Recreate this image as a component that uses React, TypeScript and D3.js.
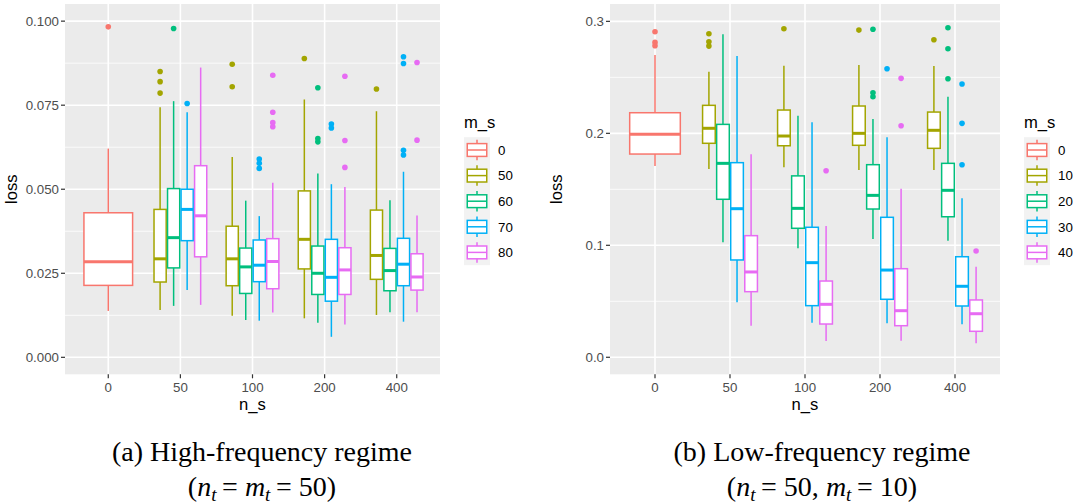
import React from "react";
import * as d3 from "d3";

type Box = { ns: string; lo: number; q1: number; med: number; q3: number; hi: number; out: number[] };

const nsLevels = ["0", "50", "100", "200", "400"];
const hueColors = ["#F8766D", "#A3A500", "#00BF7D", "#00B0F6", "#E76BF3"];

// (a) high-frequency regime
const hfMsLevels = ["0", "50", "60", "70", "80"];
const hfTicks = [0, 0.025, 0.05, 0.075, 0.1];
const hf0: Box[] = [{ ns: "0", lo: 0.0138, q1: 0.0214, med: 0.0284, q3: 0.043, hi: 0.0621, out: [0.0983] }];
const hf50: Box[] = [
  { ns: "50", lo: 0.0141, q1: 0.0224, med: 0.0293, q3: 0.044, hi: 0.0744, out: [0.085, 0.082, 0.0786] },
  { ns: "100", lo: 0.0124, q1: 0.0213, med: 0.0293, q3: 0.039, hi: 0.0596, out: [0.0872, 0.0805] },
  { ns: "200", lo: 0.0116, q1: 0.0263, med: 0.0351, q3: 0.0495, hi: 0.0767, out: [0.0889] },
  { ns: "400", lo: 0.0126, q1: 0.0232, med: 0.0303, q3: 0.0438, hi: 0.0732, out: [0.0798] },
];
const hf60: Box[] = [
  { ns: "50", lo: 0.0153, q1: 0.0266, med: 0.0356, q3: 0.0502, hi: 0.0762, out: [0.0978] },
  { ns: "100", lo: 0.0111, q1: 0.019, med: 0.0269, q3: 0.0325, hi: 0.0466, out: [] },
  { ns: "200", lo: 0.0103, q1: 0.0187, med: 0.025, q3: 0.0331, hi: 0.0547, out: [0.0802, 0.0651, 0.0641] },
  { ns: "400", lo: 0.0134, q1: 0.0198, med: 0.0258, q3: 0.0324, hi: 0.0467, out: [] },
];
const hf70: Box[] = [
  { ns: "50", lo: 0.02, q1: 0.0347, med: 0.044, q3: 0.05, hi: 0.0729, out: [0.0755] },
  { ns: "100", lo: 0.0109, q1: 0.0225, med: 0.0274, q3: 0.0349, hi: 0.042, out: [0.059, 0.0577, 0.0562] },
  { ns: "200", lo: 0.0061, q1: 0.0167, med: 0.0238, q3: 0.0351, hi: 0.0515, out: [0.0694, 0.0682] },
  { ns: "400", lo: 0.0106, q1: 0.0213, med: 0.0277, q3: 0.0354, hi: 0.0552, out: [0.0894, 0.0874, 0.0616, 0.0602] },
];
const hf80: Box[] = [
  { ns: "50", lo: 0.0156, q1: 0.0299, med: 0.0421, q3: 0.057, hi: 0.0862, out: [] },
  { ns: "100", lo: 0.0133, q1: 0.0204, med: 0.0285, q3: 0.0353, hi: 0.0519, out: [0.0839, 0.0729, 0.0698, 0.0686] },
  { ns: "200", lo: 0.0098, q1: 0.0187, med: 0.026, q3: 0.0326, hi: 0.0507, out: [0.0836, 0.0645, 0.0565] },
  { ns: "400", lo: 0.0134, q1: 0.02, med: 0.0239, q3: 0.0308, hi: 0.0422, out: [0.0877, 0.0646] },
];

// (b) low-frequency regime
const lfMsLevels = ["0", "10", "20", "30", "40"];
const lfTicks = [0, 0.1, 0.2, 0.3];
const lf0: Box[] = [{ ns: "0", lo: 0.1708, q1: 0.1815, med: 0.1991, q3: 0.2184, hi: 0.2699, out: [0.2907, 0.2812, 0.2782] }];
const lf10: Box[] = [
  { ns: "50", lo: 0.1681, q1: 0.1911, med: 0.2045, q3: 0.225, hi: 0.255, out: [0.2889, 0.2818, 0.2779] },
  { ns: "100", lo: 0.1696, q1: 0.1889, med: 0.1976, q3: 0.2208, hi: 0.2604, out: [0.2934] },
  { ns: "200", lo: 0.1672, q1: 0.1893, med: 0.2, q3: 0.2244, hi: 0.261, out: [0.2922] },
  { ns: "400", lo: 0.1672, q1: 0.1866, med: 0.2027, q3: 0.219, hi: 0.2601, out: [0.2836] },
];
const lf20: Box[] = [
  { ns: "50", lo: 0.1027, q1: 0.1411, med: 0.1732, q3: 0.208, hi: 0.2884, out: [] },
  { ns: "100", lo: 0.0973, q1: 0.1152, med: 0.133, q3: 0.162, hi: 0.2157, out: [] },
  { ns: "200", lo: 0.1056, q1: 0.1324, med: 0.1446, q3: 0.172, hi: 0.2128, out: [0.2929, 0.2363, 0.2327] },
  { ns: "400", lo: 0.1041, q1: 0.1255, med: 0.1491, q3: 0.1732, hi: 0.2327, out: [0.2943, 0.2755, 0.2488] },
];
const lf30: Box[] = [
  { ns: "50", lo: 0.0491, q1: 0.0869, med: 0.1327, q3: 0.1738, hi: 0.269, out: [] },
  { ns: "100", lo: 0.0309, q1: 0.0461, med: 0.0845, q3: 0.1161, hi: 0.2098, out: [] },
  { ns: "200", lo: 0.0304, q1: 0.0518, med: 0.0779, q3: 0.125, hi: 0.1964, out: [0.2577] },
  { ns: "400", lo: 0.0295, q1: 0.0458, med: 0.0634, q3: 0.0898, hi: 0.142, out: [0.244, 0.2089, 0.172] },
];
const lf40: Box[] = [
  { ns: "50", lo: 0.0282, q1: 0.0586, med: 0.0762, q3: 0.1086, hi: 0.1813, out: [] },
  { ns: "100", lo: 0.0146, q1: 0.0297, med: 0.0473, q3: 0.0681, hi: 0.1172, out: [0.1666] },
  { ns: "200", lo: 0.0148, q1: 0.0282, med: 0.0416, q3: 0.0791, hi: 0.1505, out: [0.2491, 0.2068] },
  { ns: "400", lo: 0.0125, q1: 0.0232, med: 0.0389, q3: 0.0512, hi: 0.0809, out: [0.0949] },
];

const sans = "'Liberation Sans', Arial, Helvetica, sans-serif";
const serif = "'Liberation Serif', 'Times New Roman', serif";

type PanelProps = {
  x0: number; x1: number; y0: number; y1: number;
  yDomain: [number, number];
  ticks: number[];
  fmt: (v: number) => string;
  levels: string[];
  series: Box[][];
};

function Panel({ x0, x1, y0, y1, yDomain, ticks, fmt, levels, series }: PanelProps) {
  const x = d3.scalePoint<string>().domain(nsLevels).range([x0, x1]).padding(0.6);
  const step = x.step();
  const y = d3.scaleLinear().domain(yDomain).range([y1, y0]);
  const minor = d3.pairs(ticks).map(([a, b]) => (a + b) / 2);

  // dodge: which series have a box at each n_s
  const present: Record<string, number[]> = {};
  nsLevels.forEach((ns) => {
    present[ns] = series.map((s, i) => (s.some((b) => b.ns === ns) ? i : -1)).filter((i) => i >= 0);
  });
  const total = 0.75 * step;

  const legX = x1 + 24;
  const keyH = 25.6;
  const keyW = 26;
  const legTop = 137.2;

  return (
    <g>
      <rect x={x0} y={y0} width={x1 - x0} height={y1 - y0} fill="#EBEBEB" />
      {minor.map((v) => (
        <line key={"mi" + v} x1={x0} x2={x1} y1={y(v)} y2={y(v)} stroke="#fff" strokeWidth={0.8} />
      ))}
      {ticks.map((v) => (
        <line key={"ma" + v} x1={x0} x2={x1} y1={y(v)} y2={y(v)} stroke="#fff" strokeWidth={1.6} />
      ))}
      {nsLevels.map((ns) => (
        <line key={"vx" + ns} x1={x(ns)} x2={x(ns)} y1={y0} y2={y1} stroke="#fff" strokeWidth={1.6} />
      ))}

      {series.map((s, si) =>
        s.map((b) => {
          const idx = present[b.ns];
          const k = idx.length;
          const slot = total / k;
          const j = idx.indexOf(si);
          const cx = (x(b.ns) as number) - total / 2 + slot * (j + 0.5);
          const bw = slot * 0.9;
          const col = hueColors[si];
          return (
            <g key={si + "-" + b.ns}>
              {b.out.map((o, oi) => (
                <circle key={oi} cx={cx} cy={y(o)} r={2.8} fill={col} />
              ))}
              <line x1={cx} x2={cx} y1={y(b.hi)} y2={y(b.q3)} stroke={col} strokeWidth={1.5} />
              <line x1={cx} x2={cx} y1={y(b.q1)} y2={y(b.lo)} stroke={col} strokeWidth={1.5} />
              <rect x={cx - bw / 2} y={y(b.q3)} width={bw} height={y(b.q1) - y(b.q3)} fill="#fff" stroke={col} strokeWidth={1.5} />
              <line x1={cx - bw / 2} x2={cx + bw / 2} y1={y(b.med)} y2={y(b.med)} stroke={col} strokeWidth={3} />
            </g>
          );
        })
      )}

      {/* y axis */}
      {ticks.map((v) => (
        <g key={"yt" + v}>
          <line x1={x0 - 4} x2={x0} y1={y(v)} y2={y(v)} stroke="#333" strokeWidth={1.2} />
          <text x={x0 - 6} y={y(v)} dy="0.36em" textAnchor="end" fontSize={13.3} fill="#4D4D4D" fontFamily={sans}>
            {fmt(v)}
          </text>
        </g>
      ))}
      {/* x axis */}
      {nsLevels.map((ns) => (
        <g key={"xt" + ns}>
          <line x1={x(ns)} x2={x(ns)} y1={y1} y2={y1 + 4} stroke="#333" strokeWidth={1.2} />
          <text x={x(ns)} y={392} textAnchor="middle" fontSize={13.3} fill="#4D4D4D" fontFamily={sans}>
            {ns}
          </text>
        </g>
      ))}
      <text x={(x0 + x1) / 2} y={409.5} textAnchor="middle" fontSize={16.6} fill="#000" fontFamily={sans}>
        n_s
      </text>
      <text
        transform={`translate(${x0 - 48.5},${(y0 + y1) / 2}) rotate(-90)`}
        textAnchor="middle"
        fontSize={16.6}
        fill="#000"
        fontFamily={sans}
      >
        loss
      </text>

      {/* legend */}
      <text x={legX} y={127.7} fontSize={16.6} fill="#000" fontFamily={sans}>
        m_s
      </text>
      <rect x={legX} y={legTop} width={keyW} height={keyH * levels.length} fill="#F2F2F2" />
      {levels.map((lv, i) => {
        const ky = legTop + i * keyH;
        const kc = legX + keyW / 2;
        const col = hueColors[i];
        return (
          <g key={"lg" + lv}>
            <line x1={kc} x2={kc} y1={ky + keyH * 0.1} y2={ky + keyH * 0.9} stroke={col} strokeWidth={1.5} />
            <rect x={legX + keyW * 0.125} y={ky + keyH * 0.25} width={keyW * 0.75} height={keyH * 0.5} fill="#fff" stroke={col} strokeWidth={1.5} />
            <line x1={legX + keyW * 0.125} x2={legX + keyW * 0.875} y1={ky + keyH / 2} y2={ky + keyH / 2} stroke={col} strokeWidth={1.5} />
            <text x={legX + keyW + 8} y={ky + keyH / 2} dy="0.36em" fontSize={13.3} fill="#000" fontFamily={sans}>
              {lv}
            </text>
          </g>
        );
      })}
    </g>
  );
}

function Caption({ cx, line1, parts }: { cx: number; line1: string; parts: React.ReactNode }) {
  return (
    <g fontFamily={serif} fontSize={28} fill="#000">
      <text x={cx} y={461} textAnchor="middle">
        {line1}
      </text>
      <text x={cx} y={496} textAnchor="middle">
        {parts}
      </text>
    </g>
  );
}

const sub = (t: string) => (
  <>
    <tspan fontStyle="italic" fontSize={19} dy={5}>{t}</tspan>
    <tspan dy={-5}>{"\u2009"}</tspan>
  </>
);

export default function App() {
  return (
    <div style={{ position: "absolute", left: 0, top: 0 }}>
      <svg width={1083} height={504} style={{ display: "block", background: "#fff" }}>
        <Panel
          x0={65}
          x1={440}
          y0={4}
          y1={374.3}
          yDomain={[-0.00505, 0.1051]}
          ticks={hfTicks}
          fmt={d3.format(".3f")}
          levels={hfMsLevels}
          series={[hf0, hf50, hf60, hf70, hf80]}
        />
        <Panel
          x0={610}
          x1={1000}
          y0={4}
          y1={374.3}
          yDomain={[-0.0152, 0.3155]}
          ticks={lfTicks}
          fmt={d3.format(".1f")}
          levels={lfMsLevels}
          series={[lf0, lf10, lf20, lf30, lf40]}
        />
        <Caption
          cx={262}
          line1="(a) High-frequency regime"
          parts={
            <>
              <tspan>(</tspan>
              <tspan fontStyle="italic">n</tspan>
              {sub("t")}
              <tspan>= </tspan>
              <tspan fontStyle="italic">m</tspan>
              {sub("t")}
              <tspan>= 50)</tspan>
            </>
          }
        />
        <Caption
          cx={822}
          line1="(b) Low-frequency regime"
          parts={
            <>
              <tspan>(</tspan>
              <tspan fontStyle="italic">n</tspan>
              {sub("t")}
              <tspan>= 50,  </tspan>
              <tspan fontStyle="italic">m</tspan>
              {sub("t")}
              <tspan>= 10)</tspan>
            </>
          }
        />
      </svg>
    </div>
  );
}
